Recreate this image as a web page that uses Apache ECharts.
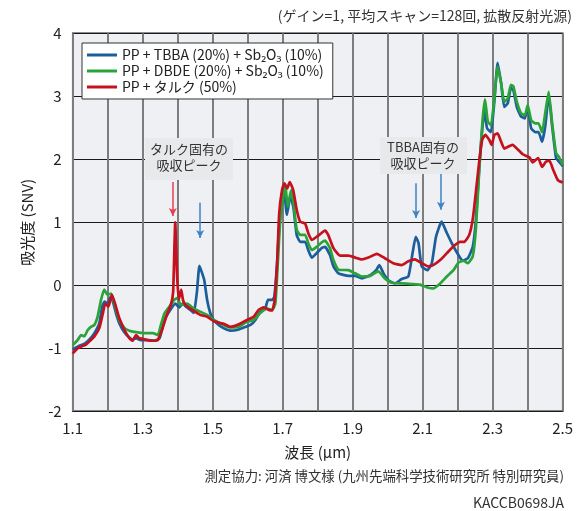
<!DOCTYPE html>
<html>
<head>
<meta charset="utf-8">
<script src="https://cdn.jsdelivr.net/npm/echarts@6/dist/echarts.min.js"></script>
<style>
html,body{margin:0;padding:0;background:#fff;}
#c{width:582px;height:511px;}
</style>
</head>
<body>
<div id="c"></div>
<script>
// ---- data (wavelength µm, absorbance SNV) ----
var tbbaX = [1.100,1.119,1.133,1.148,1.162,1.176,1.184,1.191,1.200,1.207,1.214,1.224,1.233,1.248,1.262,1.271,1.281,1.295,1.314,1.333,1.348,1.357,1.367,1.381,1.393,1.405,1.414,1.424,1.436,1.446,1.455,1.462,1.470,1.476,1.484,1.493,1.503,1.517,1.531,1.550,1.570,1.589,1.608,1.622,1.636,1.650,1.658,1.670,1.676,1.684,1.690,1.698,1.703,1.712,1.722,1.731,1.740,1.750,1.764,1.773,1.783,1.797,1.811,1.821,1.835,1.845,1.859,1.888,1.907,1.926,1.950,1.967,1.976,1.988,2.002,2.021,2.040,2.059,2.071,2.080,2.088,2.097,2.113,2.126,2.138,2.154,2.169,2.183,2.202,2.214,2.229,2.243,2.252,2.262,2.267,2.276,2.284,2.295,2.305,2.314,2.324,2.333,2.343,2.352,2.359,2.369,2.381,2.392,2.400,2.410,2.422,2.431,2.441,2.450,2.460,2.470,2.481,2.490,2.500];
var tbbaY = [-1.02,-0.96,-0.93,-0.86,-0.76,-0.60,-0.34,-0.26,-0.29,-0.19,-0.24,-0.45,-0.60,-0.75,-0.83,-0.86,-0.84,-0.87,-0.87,-0.88,-0.84,-0.66,-0.50,-0.37,-0.29,-0.35,-0.29,-0.34,-0.39,-0.44,-0.10,0.31,0.19,0.08,-0.23,-0.44,-0.55,-0.63,-0.68,-0.72,-0.71,-0.67,-0.63,-0.55,-0.42,-0.37,-0.23,-0.23,-0.18,0.35,0.93,1.30,1.57,1.12,1.42,1.22,0.80,0.69,0.69,0.56,0.44,0.51,0.59,0.61,0.48,0.30,0.19,0.15,0.15,0.11,0.16,0.24,0.32,0.19,0.08,0.03,0.10,0.14,0.51,0.77,0.67,0.30,0.24,0.35,0.77,1.01,0.83,0.67,0.48,0.39,0.43,0.61,1.04,1.90,2.26,2.78,2.49,2.43,2.94,3.53,3.21,2.83,2.89,3.13,3.10,2.83,2.68,2.65,2.83,2.49,2.43,2.43,2.28,2.52,3.02,2.52,2.02,1.96,1.89];

var dbdeX = [1.100,1.114,1.124,1.133,1.143,1.152,1.162,1.171,1.181,1.190,1.200,1.210,1.219,1.233,1.248,1.262,1.276,1.290,1.310,1.329,1.343,1.352,1.362,1.376,1.390,1.400,1.408,1.427,1.446,1.465,1.484,1.503,1.531,1.550,1.574,1.598,1.617,1.636,1.655,1.670,1.679,1.686,1.693,1.700,1.708,1.714,1.724,1.731,1.740,1.750,1.764,1.773,1.783,1.797,1.811,1.821,1.835,1.845,1.859,1.888,1.907,1.926,1.950,1.973,1.992,2.011,2.040,2.069,2.092,2.111,2.130,2.150,2.169,2.188,2.202,2.216,2.229,2.243,2.252,2.262,2.271,2.278,2.286,2.295,2.305,2.314,2.324,2.333,2.343,2.352,2.359,2.369,2.381,2.392,2.400,2.410,2.422,2.431,2.441,2.450,2.460,2.470,2.481,2.490,2.500];
var dbdeY = [-0.95,-0.87,-0.79,-0.81,-0.71,-0.66,-0.63,-0.50,-0.23,-0.07,-0.15,-0.13,-0.29,-0.55,-0.68,-0.72,-0.74,-0.75,-0.76,-0.76,-0.79,-0.63,-0.45,-0.34,-0.23,-0.20,-0.31,-0.29,-0.37,-0.42,-0.47,-0.55,-0.63,-0.67,-0.66,-0.58,-0.55,-0.44,-0.37,-0.39,-0.29,0.35,1.04,1.35,1.57,1.25,1.51,1.30,0.88,0.80,0.80,0.67,0.56,0.61,0.68,0.71,0.59,0.40,0.25,0.24,0.19,0.14,0.15,0.22,0.11,0.04,0.03,0.02,0.01,-0.03,-0.05,0.03,0.14,0.24,0.36,0.39,0.35,0.46,0.90,1.88,2.62,2.95,2.60,2.54,2.99,3.47,3.21,2.91,2.97,3.18,3.16,2.91,2.73,2.70,2.86,2.62,2.57,2.57,2.43,2.73,3.07,2.57,2.10,2.03,1.91];

var talcX = [1.100,1.114,1.129,1.138,1.148,1.162,1.176,1.186,1.193,1.202,1.212,1.221,1.233,1.248,1.262,1.271,1.281,1.290,1.300,1.314,1.329,1.343,1.355,1.367,1.381,1.387,1.393,1.398,1.403,1.410,1.415,1.422,1.436,1.450,1.465,1.484,1.503,1.522,1.531,1.550,1.570,1.598,1.617,1.631,1.646,1.660,1.670,1.677,1.684,1.690,1.698,1.705,1.713,1.720,1.730,1.740,1.750,1.764,1.773,1.783,1.797,1.811,1.821,1.830,1.845,1.864,1.888,1.907,1.926,1.945,1.969,1.992,2.016,2.040,2.059,2.078,2.097,2.116,2.130,2.150,2.169,2.188,2.207,2.219,2.233,2.243,2.252,2.262,2.270,2.279,2.290,2.297,2.305,2.314,2.324,2.333,2.348,2.357,2.371,2.386,2.405,2.414,2.430,2.441,2.452,2.462,2.473,2.486,2.500];
var talcY = [-1.08,-1.00,-0.96,-0.94,-0.89,-0.81,-0.68,-0.45,-0.29,-0.34,-0.15,-0.29,-0.52,-0.71,-0.84,-0.88,-0.79,-0.84,-0.85,-0.87,-0.88,-0.87,-0.71,-0.50,-0.30,-0.10,1.00,0.19,-0.23,-0.07,-0.23,-0.31,-0.37,-0.42,-0.47,-0.50,-0.57,-0.60,-0.61,-0.66,-0.63,-0.55,-0.50,-0.39,-0.35,-0.39,-0.40,-0.23,0.35,1.14,1.51,1.62,1.54,1.64,1.51,1.20,1.01,0.98,0.83,0.72,0.77,0.83,0.87,0.80,0.59,0.47,0.47,0.44,0.41,0.44,0.50,0.43,0.35,0.32,0.38,0.41,0.35,0.30,0.32,0.40,0.51,0.62,0.69,0.69,0.80,1.05,1.48,1.99,2.31,2.39,2.31,2.23,2.39,2.41,2.28,2.17,2.21,2.23,2.16,2.08,2.03,1.95,2.02,1.88,1.96,1.98,1.83,1.67,1.63];

var seriesNames = ['PP + TBBA (20%) + Sb₂O₃ (10%)', 'PP + DBDE (20%) + Sb₂O₃ (10%)', 'PP + タルク (50%)'];
var xTicks = [1.1, 1.3, 1.5, 1.7, 1.9, 2.1, 2.3, 2.5];
// arrows: [wavelength, from, to]
var talcArrows = [[1.386, 1.64, 1.10]];
var tbbaArrows = [[1.464, 1.31, 0.75], [2.081, 1.62, 1.07], [2.152, 1.78, 1.20]];

function zip(xs, ys){ return xs.map(function(x,i){ return [x, ys[i]]; }); }
function arrows(list){
  return list.map(function(a){
    return [{coord:[a[0], a[1]], symbol:'none'}, {coord:[a[0], a[2]], symbol:'arrow'}];
  });
}

var FONT = '"Noto Sans CJK JP", "Noto Sans", sans-serif';
var chart = echarts.init(document.getElementById('c'), null, {renderer:'canvas'});
var colors = ['#1b5e9b', '#2aa43a', '#c4111d'];

chart.setOption({
  animation: false,
  textStyle: {fontFamily: FONT},
  color: colors,
  grid: {left: 72.7, right: 19.3, top: 33.3, bottom: 99.7, show: true,
         backgroundColor: '#eef0f3', borderColor: '#1a1a1a', borderWidth: 1.5},
  legend: {
    orient: 'vertical', left: 82, top: 43,
    backgroundColor: '#ffffff', borderColor: '#333', borderWidth: 1,
    padding: [5, 9, 5, 5], itemGap: 2,
    itemWidth: 30, itemHeight: 3, icon: 'rect',
    textStyle: {fontFamily: FONT, fontSize: 14, color: '#222', padding: [0,0,0,0]},
    data: seriesNames
  },
  xAxis: {
    type: 'value', min: 1.1, max: 2.5, interval: 0.1,
    axisLine: {show: false}, axisTick: {show: false},
    axisLabel: {fontFamily: FONT, fontSize: 15, color: '#222', margin: 9,
      formatter: function(v){
        for (var i=0;i<xTicks.length;i++){ if (Math.abs(v - xTicks[i]) < 1e-6) return xTicks[i].toFixed(1); }
        return '';
      }},
    splitLine: {show: true, lineStyle: {color: '#7d7d7d', width: 2}},
    name: '波長 (μm)', nameLocation: 'middle', nameGap: 33,
    nameTextStyle: {fontFamily: FONT, fontSize: 15, color: '#222'}
  },
  yAxis: {
    type: 'value', min: -2, max: 4, interval: 1,
    axisLine: {show: false}, axisTick: {show: false},
    axisLabel: {fontFamily: FONT, fontSize: 15, color: '#222', margin: 11},
    splitLine: {show: true, lineStyle: {color: '#1a1a1a', width: 1}},
    name: '吸光度 (SNV)', nameLocation: 'middle', nameGap: 38, nameRotate: 90,
    nameTextStyle: {fontFamily: FONT, fontSize: 15, color: '#222'}
  },
  series: [
    {name: seriesNames[0], type: 'line', data: zip(tbbaX, tbbaY), showSymbol: false, smooth: 0.15,
     lineStyle: {width: 2.7, color: colors[0], join: 'round'},
     markLine: {silent: true, symbolSize: [6, 8], label: {show: false},
       lineStyle: {color: '#3d83c6', width: 1.5, type: 'solid'}, data: arrows(tbbaArrows)}},
    {name: seriesNames[1], type: 'line', data: zip(dbdeX, dbdeY), showSymbol: false, smooth: 0.15,
     lineStyle: {width: 2.7, color: colors[1], join: 'round'}},
    {name: seriesNames[2], type: 'line', data: zip(talcX, talcY), showSymbol: false, smooth: 0.15,
     lineStyle: {width: 2.7, color: colors[2], join: 'round'},
     markLine: {silent: true, symbolSize: [6, 8], label: {show: false},
       lineStyle: {color: '#e2404f', width: 1.5, type: 'solid'}, data: arrows(talcArrows)}}
  ],
  graphic: [
    {type: 'text', right: 10, top: 9,
     style: {text: '(ゲイン=1, 平均スキャン=128回, 拡散反射光源)', font: '14px ' + FONT, fill: '#333'}},
    {type: 'rect', shape: {x: 145, y: 138, width: 88, height: 42}, style: {fill: '#e8e9eb'}, z: 10},
    {type: 'text', x: 189, y: 141, z: 11,
     style: {text: 'タルク固有の\n吸収ピーク', font: '13px ' + FONT, fill: '#333', textAlign: 'center', lineHeight: 16}},
    {type: 'rect', shape: {x: 380, y: 137, width: 87, height: 37}, style: {fill: '#e8e9eb'}, z: 10},
    {type: 'text', x: 423, y: 139, z: 11,
     style: {text: 'TBBA固有の\n吸収ピーク', font: '13px ' + FONT, fill: '#333', textAlign: 'center', lineHeight: 16}},
    {type: 'text', right: 18, top: 469,
     style: {text: '測定協力: 河済 博文様 (九州先端科学技術研究所 特別研究員)', font: '13.4px ' + FONT, fill: '#333'}},
    {type: 'text', right: 18, top: 496,
     style: {text: 'KACCB0698JA', font: '14px ' + FONT, fill: '#333'}}
  ]
});
</script>
</body>
</html>
